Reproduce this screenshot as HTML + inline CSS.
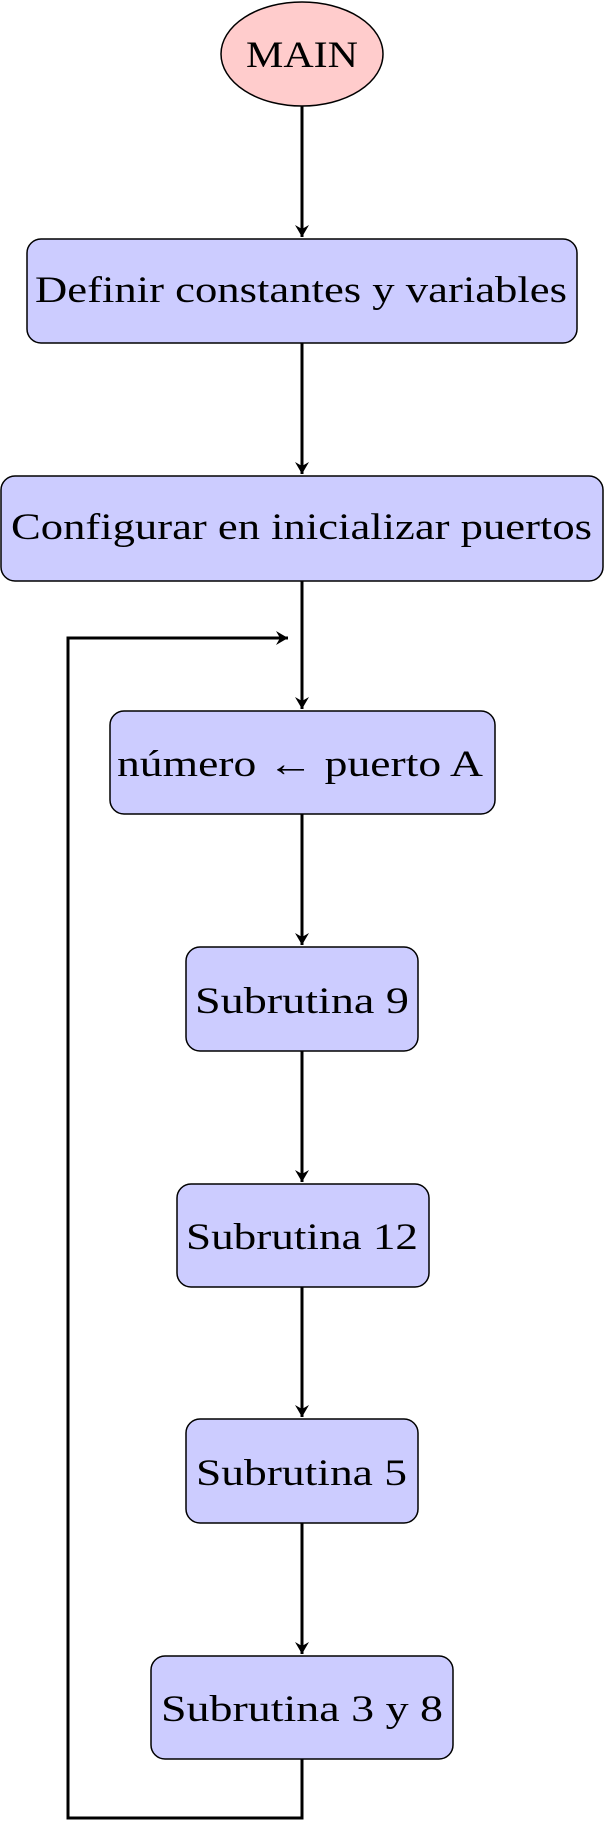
<!DOCTYPE html>
<html><head><meta charset="utf-8"><style>html,body{margin:0;padding:0;background:#fff}svg{display:block}</style></head>
<body>
<svg width="604" height="1821" viewBox="0 0 604 1821" xmlns="http://www.w3.org/2000/svg" font-family="Liberation Serif, serif" font-size="37">
<defs>
<marker id="a" markerWidth="14" markerHeight="14" refX="12" refY="7" orient="auto" markerUnits="userSpaceOnUse">
<path d="M0,0 L12,7 L0,14 L4,7 Z" fill="#000"/>
</marker>
</defs>
<g stroke="#000" stroke-width="3" fill="none">
<line x1="302" y1="106" x2="302" y2="237" marker-end="url(#a)"/>
<line x1="302" y1="343" x2="302" y2="474" marker-end="url(#a)"/>
<line x1="302" y1="581" x2="302" y2="709" marker-end="url(#a)"/>
<line x1="302" y1="814" x2="302" y2="945" marker-end="url(#a)"/>
<line x1="302" y1="1051" x2="302" y2="1182" marker-end="url(#a)"/>
<line x1="302" y1="1287" x2="302" y2="1417" marker-end="url(#a)"/>
<line x1="302" y1="1523" x2="302" y2="1654" marker-end="url(#a)"/>
<polyline points="302,1759 302,1818 68,1818 68,638 288,638" marker-end="url(#a)"/>
</g>
<g stroke="#000" stroke-width="1.5">
<ellipse cx="302" cy="54" rx="81" ry="52" fill="#ffcccc"/>
<rect x="27" y="239" width="550" height="104" rx="14" fill="#ccccff"/>
<rect x="1" y="476" width="602" height="105" rx="14" fill="#ccccff"/>
<rect x="110" y="711" width="385" height="103" rx="14" fill="#ccccff"/>
<rect x="186" y="947" width="232" height="104" rx="14" fill="#ccccff"/>
<rect x="177" y="1184" width="252" height="103" rx="14" fill="#ccccff"/>
<rect x="186" y="1419" width="232" height="104" rx="14" fill="#ccccff"/>
<rect x="151" y="1656" width="302" height="103" rx="14" fill="#ccccff"/>
</g>
<g fill="#000">
<text x="246" y="67" textLength="112" lengthAdjust="spacingAndGlyphs">MAIN</text>
<text x="35" y="302" textLength="532" lengthAdjust="spacingAndGlyphs">Definir constantes y variables</text>
<text x="11" y="539" textLength="581" lengthAdjust="spacingAndGlyphs">Configurar en inicializar puertos</text>
<text x="117" y="776" textLength="366" lengthAdjust="spacingAndGlyphs">número ← puerto A</text>
<text x="195" y="1013" textLength="214" lengthAdjust="spacingAndGlyphs">Subrutina 9</text>
<text x="186" y="1249" textLength="232" lengthAdjust="spacingAndGlyphs">Subrutina 12</text>
<text x="196" y="1485" textLength="211" lengthAdjust="spacingAndGlyphs">Subrutina 5</text>
<text x="161" y="1721" textLength="282" lengthAdjust="spacingAndGlyphs">Subrutina 3 y 8</text>
</g>
</svg>
</body></html>
